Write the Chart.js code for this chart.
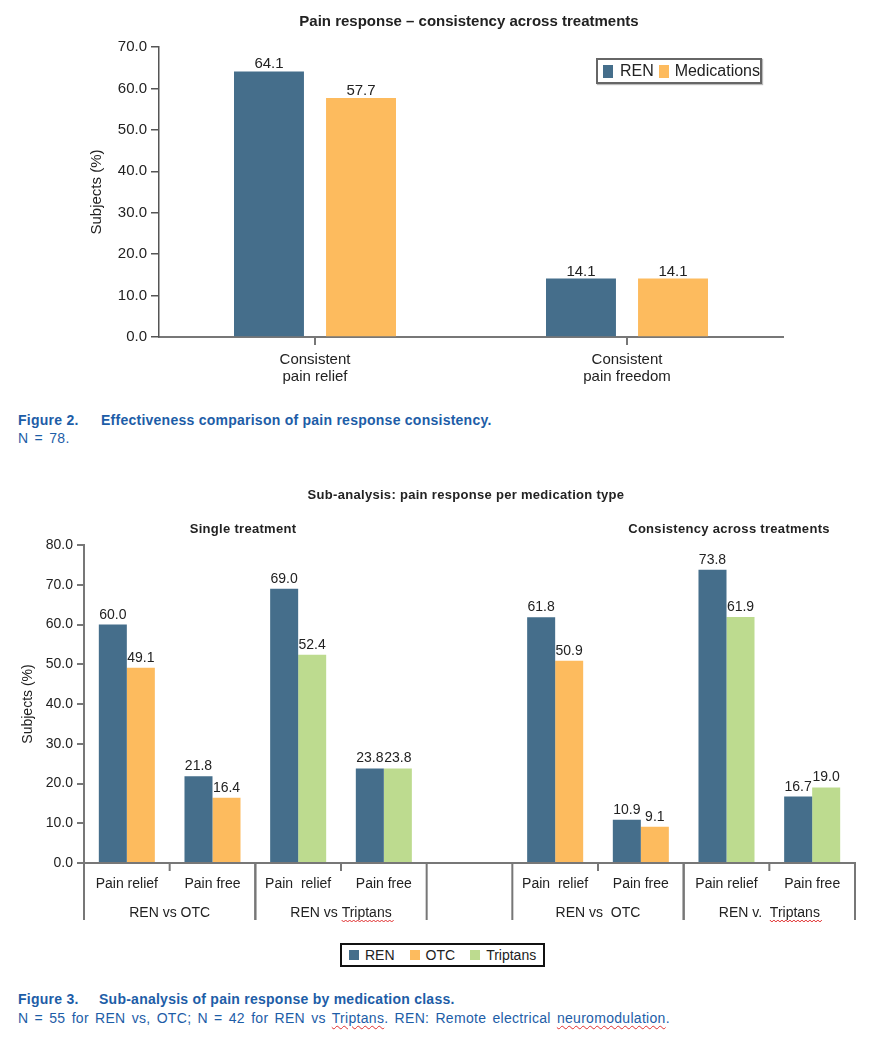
<!DOCTYPE html>
<html>
<head>
<meta charset="utf-8">
<script src="https://cdn.jsdelivr.net/npm/chart.js@4.4.1/dist/chart.umd.min.js"></script>
<style>
  body { margin: 0; background: #fff; font-family: "Liberation Sans", Arial, sans-serif; color: #222; }
  #page { position: relative; width: 874px; height: 1040px; overflow: hidden; }
  canvas { position: absolute; left: 0; }
  .c { position: absolute; white-space: nowrap; transform: translate(-50%, -50%); font-weight: bold; letter-spacing: 0.3px; }
  .narrow { font-family: "Liberation Sans Narrow", "Liberation Sans", Arial, sans-serif; letter-spacing: 0; }
  .legend { position: absolute; display: flex; align-items: center; box-sizing: border-box; white-space: nowrap; }
  .legend i { display: inline-block; }
  .cap { position: absolute; left: 18px; white-space: nowrap; color: #1d5da7; font-size: 14px; line-height: 16px; letter-spacing: 0.3px; word-spacing: 2px; }
  .cap.bold { font-weight: bold; letter-spacing: 0.25px; word-spacing: 0; }
  .cap .fig { display: inline-block; }
  .spell { text-decoration: underline wavy #e03030; text-decoration-thickness: 1px; text-underline-offset: 2px; }
</style>
</head>
<body>
<div id="page">
  <canvas id="chartTop" width="874" height="400" style="top:0"></canvas>
  <canvas id="chartSub" width="874" height="470" style="top:470px"></canvas>

  <div class="c narrow" style="left:469px; top:20px; font-size:15px;">Pain response – consistency across treatments</div>
  <div class="legend narrow" style="left:596px; top:58px; width:166px; height:26px; border:2px solid #666; box-shadow:1px 1px 1px #bbb; font-size:16px; padding-left:5px;">
    <i style="width:13px; height:13px; background:#456e8b; margin-right:7px;"></i>REN
    <i style="width:13px; height:13px; background:#fdbb5e; margin:0 6px 0 5px;"></i>Medications
  </div>

  <div class="cap bold" style="top:412px;"><span class="fig" style="width:83px;">Figure 2.</span>Effectiveness comparison of pain response consistency.</div>
  <div class="cap" style="top:430px;">N = 78.</div>

  <div class="c" style="left:466px; top:494px; font-size:13px;">Sub-analysis: pain response per medication type</div>
  <div class="c" style="left:243px; top:528px; font-size:13px;">Single treatment</div>
  <div class="c" style="left:729px; top:528px; font-size:13px;">Consistency across treatments</div>

  <div class="legend" style="left:340px; top:943px; width:205px; height:24px; border:2px solid #111; font-size:14px; padding-left:7px;">
    <i style="width:10px; height:10px; background:#456e8b; margin-right:6px;"></i>REN
    <i style="width:10px; height:10px; background:#fdbb5e; margin:0 6px 0 15px;"></i>OTC
    <i style="width:10px; height:10px; background:#bddb8f; margin:0 6px 0 15px;"></i>Triptans
  </div>

  <div class="cap bold" style="top:991px;"><span class="fig" style="width:81px;">Figure 3.</span>Sub-analysis of pain response by medication class.</div>
  <div class="cap" style="top:1010px;">N = 55 for REN vs, OTC; N = 42 for REN vs <span class="spell">Triptans</span>. REN: Remote electrical <span class="spell">neuromodulation</span>.</div>
</div>

<script>
// figure 2 - consistency across treatments
const topCats = [['Consistent', 'pain relief'], ['Consistent', 'pain freedom']];
const topRen = [64.1, 14.1];
const topMed = [57.7, 14.1];
const topTicks = [0, 10, 20, 30, 40, 50, 60, 70];

// figure 3 - sub-analysis per medication type
const subCats = ['Pain relief', 'Pain free', 'Pain  relief', 'Pain free', '', 'Pain  relief', 'Pain free', 'Pain relief', 'Pain free'];
const subRen = [60.0, 21.8, 69.0, 23.8, null, 61.8, 10.9, 73.8, 16.7];
const subOtc = [49.1, 16.4, null, null, null, 50.9, 9.1, null, null];
const subTrip = [null, null, 52.4, 23.8, null, null, null, 61.9, 19.0];
const subTicks = [0, 10, 20, 30, 40, 50, 60, 70, 80];
const subGroups = [
  { label: 'REN vs OTC', first: 0, last: 1 },
  { label: 'REN vs Triptans', first: 2, last: 3 },
  { label: 'REN vs  OTC', first: 5, last: 6 },
  { label: 'REN v.  Triptans', first: 7, last: 8 }
];

const REN_COL = '#456e8b', MED_COL = '#fdbb5e', TRIP_COL = '#bddb8f';
const narrow = '"Liberation Sans Narrow", "Liberation Sans", Arial, sans-serif';
const sans = '"Liberation Sans", Arial, sans-serif';

// numbers over the bars
const valueLabels = {
  id: 'valueLabels',
  afterDatasetsDraw(chart, args, opts) {
    const ctx = chart.ctx;
    ctx.save();
    ctx.font = opts.font;
    ctx.fillStyle = '#222';
    ctx.textAlign = 'center';
    ctx.textBaseline = 'alphabetic';
    chart.data.datasets.forEach((ds, i) => {
      chart.getDatasetMeta(i).data.forEach((bar, j) => {
        const v = ds.data[j];
        if (v == null) return;
        ctx.fillText(v.toFixed(1), bar.x, bar.y - opts.gap);
      });
    });
    ctx.restore();
  }
};

// red squiggle like the word processor's spell check
function squiggle(ctx, x0, x1, y) {
  ctx.save();
  ctx.strokeStyle = '#e03030';
  ctx.lineWidth = 1;
  ctx.beginPath();
  ctx.moveTo(x0, y);
  for (let x = x0, k = 0; x < x1; x += 2, k++) ctx.lineTo(x + 2, y + (k % 2 ? 0 : 2));
  ctx.stroke();
  ctx.restore();
}

// second row of the x axis: comparison groups with divider lines
const groupAxis = {
  id: 'groupAxis',
  afterDraw(chart) {
    const x = chart.scales.x, ctx = chart.ctx, bottom = chart.chartArea.bottom;
    ctx.save();
    ctx.strokeStyle = '#777';
    ctx.lineWidth = 2;
    ctx.font = '14px ' + sans;
    ctx.fillStyle = '#222';
    ctx.textAlign = 'center';
    ctx.textBaseline = 'middle';
    subGroups.forEach(g => {
      const a = x.getPixelForValue(g.first - 0.5);
      const b = x.getPixelForValue(g.last + 0.5);
      const m = x.getPixelForValue(g.first + 0.5);
      ctx.beginPath();
      ctx.moveTo(a, bottom); ctx.lineTo(a, bottom + 57);
      ctx.moveTo(b, bottom); ctx.lineTo(b, bottom + 57);
      ctx.moveTo(m, bottom); ctx.lineTo(m, bottom + 8);
      ctx.stroke();
      const cx = (a + b) / 2, ly = bottom + 50;
      ctx.fillText(g.label, cx, ly);
      const w = g.label.indexOf('Triptans');
      if (w >= 0) {
        const full = ctx.measureText(g.label).width;
        const start = cx - full / 2 + ctx.measureText(g.label.slice(0, w)).width;
        squiggle(ctx, start, cx + full / 2, ly + 7);
      }
    });
    ctx.restore();
  }
};

new Chart(document.getElementById('chartTop'), {
  type: 'bar',
  data: {
    labels: topCats,
    datasets: [
      { label: 'REN', data: topRen, backgroundColor: REN_COL },
      { label: 'Medications', data: topMed, backgroundColor: MED_COL }
    ]
  },
  options: {
    responsive: false,
    animation: false,
    layout: { padding: { top: 47, left: 84, right: 91, bottom: 0 } },
    datasets: { bar: { categoryPercentage: 0.59, barPercentage: 0.76 } },
    plugins: {
      legend: { display: false },
      tooltip: { enabled: false },
      valueLabels: { font: '15px ' + narrow, gap: 3 }
    },
    scales: {
      x: {
        afterFit: s => { s.height = 63; },
        border: { color: '#777', width: 2 },
        grid: { drawOnChartArea: false, offset: false, tickLength: 8, color: '#777', lineWidth: 2 },
        ticks: { padding: 6, color: '#222', font: { family: narrow, size: 15, lineHeight: 1.15 } }
      },
      y: {
        min: 0, max: 70,
        afterBuildTicks: s => { s.ticks = topTicks.map(v => ({ value: v })); },
        afterFit: s => { s.width = 75; },
        border: { color: '#555', width: 1.5 },
        grid: { drawOnChartArea: false, tickLength: 8, color: '#555', lineWidth: 1.5 },
        ticks: { padding: 4, color: '#222', font: { family: narrow, size: 15 }, callback: v => v.toFixed(1) },
        title: { display: true, text: 'Subjects (%)', color: '#222', font: { family: narrow, size: 15 }, padding: 4 }
      }
    }
  },
  plugins: [valueLabels]
});

new Chart(document.getElementById('chartSub'), {
  type: 'bar',
  data: {
    labels: subCats,
    datasets: [
      { label: 'REN', data: subRen, backgroundColor: REN_COL },
      { label: 'OTC', data: subOtc, backgroundColor: MED_COL },
      { label: 'Triptans', data: subTrip, backgroundColor: TRIP_COL }
    ]
  },
  options: {
    responsive: false,
    animation: false,
    layout: { padding: { top: 75, left: 16, right: 19, bottom: 0 } },
    datasets: { bar: { categoryPercentage: 0.654, barPercentage: 1.0, skipNull: true } },
    plugins: {
      legend: { display: false },
      tooltip: { enabled: false },
      valueLabels: { font: '14px ' + sans, gap: 6 }
    },
    scales: {
      x: {
        afterFit: s => { s.height = 77; },
        border: { color: '#777', width: 2 },
        grid: { display: false },
        ticks: { padding: 5, color: '#222', font: { family: sans, size: 14 } }
      },
      y: {
        min: 0, max: 80,
        afterBuildTicks: s => { s.ticks = subTicks.map(v => ({ value: v })); },
        afterFit: s => { s.width = 68; },
        border: { color: '#777', width: 2 },
        grid: { drawOnChartArea: false, tickLength: 7, color: '#777', lineWidth: 2 },
        ticks: { padding: 4, color: '#222', font: { family: sans, size: 14 }, callback: v => v.toFixed(1) },
        title: { display: true, text: 'Subjects (%)', color: '#222', font: { family: sans, size: 14 }, padding: 4 }
      }
    }
  },
  plugins: [valueLabels, groupAxis]
});
</script>
</body>
</html>
